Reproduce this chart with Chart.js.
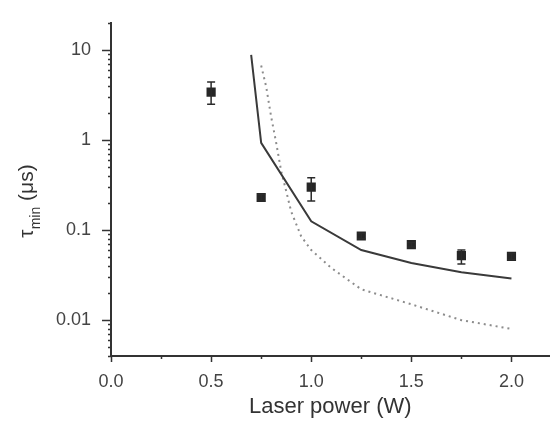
<!DOCTYPE html>
<html lang="en">
<head>
<meta charset="UTF-8" />
<title>Tau min vs laser power</title>
<style>
  html, body { margin: 0; padding: 0; background: #fff; overflow: hidden; }
  .wrap { width: 556px; height: 421px; position: relative; }
</style>
</head>
<body>
<div class="wrap"><canvas id="tauChart"></canvas></div>
<script src="https://cdn.jsdelivr.net/npm/chart.js"></script>
<script>
  // measured points (squares) with error bars
  const power = [0.5, 0.75, 1.0, 1.25, 1.5, 1.75, 2.0];
  const tauMeas = [3.4, 0.23, 0.30, 0.086, 0.069, 0.052, 0.051];
  const tauLow = [2.5, 0.21, 0.21, 0.080, 0.065, 0.042, 0.047];
  const tauHigh = [4.4, 0.25, 0.38, 0.092, 0.073, 0.060, 0.055];

  // model curves
  const solidX = [0.70, 0.75, 1.0, 1.25, 1.5, 1.75, 2.0];
  const solidY = [8.8, 0.93, 0.125, 0.060, 0.043, 0.034, 0.029];
  const dotX = [0.75, 0.775, 0.8, 0.825, 0.85, 0.875, 0.9, 0.95, 1.0, 1.1, 1.25, 1.5, 1.75, 2.0];
  const dotY = [6.7, 3.9, 1.8, 0.93, 0.45, 0.27, 0.16, 0.085, 0.06, 0.038, 0.022, 0.015, 0.010, 0.008];

  // axes
  const xTicks = [0, 0.25, 0.5, 0.75, 1.0, 1.25, 1.5, 1.75, 2.0];
  const xMajor = [0, 0.5, 1.0, 1.5, 2.0];
  const yTicks = [0.004, 0.005, 0.006, 0.007, 0.008, 0.009,
                  0.01, 0.02, 0.03, 0.04, 0.05, 0.06, 0.07, 0.08, 0.09,
                  0.1, 0.2, 0.3, 0.4, 0.5, 0.6, 0.7, 0.8, 0.9,
                  1, 2, 3, 4, 5, 6, 7, 8, 9, 10, 20];
  const yMajor = [0.01, 0.1, 1, 10];
  const yLabels = ['0.01', '0.1', '1', '10'];

  const isIn = (list, v) => list.some(m => Math.abs(m - v) < 1e-9);

  const pts = (xs, ys) => xs.map((x, i) => ({ x: x, y: ys[i] }));

  // draws tick marks, error bars and the y title with subscript
  const extras = {
    id: 'extras',
    afterDatasetsDraw(chart) {
      const ctx = chart.ctx;
      const xs = chart.scales.x, ys = chart.scales.y;
      ctx.save();
      ctx.strokeStyle = '#2b2b2b';
      ctx.lineWidth = 1.5;
      power.forEach((p, i) => {
        const px = xs.getPixelForValue(p);
        const y1 = ys.getPixelForValue(tauLow[i]);
        const y2 = ys.getPixelForValue(tauHigh[i]);
        ctx.beginPath();
        ctx.moveTo(px, y1); ctx.lineTo(px, y2);
        ctx.moveTo(px - 4, y1); ctx.lineTo(px + 4, y1);
        ctx.moveTo(px - 4, y2); ctx.lineTo(px + 4, y2);
        ctx.stroke();
      });
      ctx.restore();
    },
    afterDraw(chart) {
      const ctx = chart.ctx;
      const xs = chart.scales.x, ys = chart.scales.y;
      const area = chart.chartArea;
      ctx.save();
      ctx.strokeStyle = '#333';
      ctx.lineWidth = 1.5;
      ctx.beginPath();
      xTicks.forEach(v => {
        const px = Math.round(xs.getPixelForValue(v)) + 0.5;
        const len = isIn(xMajor, v) ? 6 : 3;
        ctx.moveTo(px, area.bottom); ctx.lineTo(px, area.bottom + len);
      });
      yTicks.forEach(v => {
        const py = Math.round(ys.getPixelForValue(v)) + 0.5;
        const len = isIn(yMajor, v) ? 9 : 3;
        ctx.moveTo(area.left, py); ctx.lineTo(area.left - len, py);
      });
      ctx.stroke();

      // y title: tau_min (us)
      ctx.translate(33, 201);
      ctx.rotate(-Math.PI / 2);
      ctx.fillStyle = '#333';
      ctx.textBaseline = 'alphabetic';
      const big = '21px "Liberation Sans", Arial, sans-serif';
      const small = '14px "Liberation Sans", Arial, sans-serif';
      ctx.font = big;
      const wTau = ctx.measureText('\u03c4').width;
      const wUnit = ctx.measureText(' (\u03bcs)').width;
      ctx.font = small;
      const wMin = ctx.measureText('min').width;
      let u = -(wTau + wMin + wUnit) / 2;
      ctx.font = big;
      ctx.fillText('\u03c4', u, 0);
      u += wTau;
      ctx.font = small;
      ctx.fillText('min', u, 7);
      u += wMin;
      ctx.font = big;
      ctx.fillText(' (\u03bcs)', u, 0);
      ctx.restore();
    }
  };

  new Chart(document.getElementById('tauChart'), {
    type: 'scatter',
    data: {
      datasets: [
        {
          label: 'measured',
          data: pts(power, tauMeas),
          pointStyle: 'rect',
          pointRadius: 6.5,
          backgroundColor: '#262626',
          borderColor: '#262626',
          borderWidth: 0,
          order: 0
        },
        {
          label: 'model 1',
          data: pts(solidX, solidY),
          showLine: true,
          pointRadius: 0,
          borderColor: '#3a3a3a',
          borderWidth: 2,
          fill: false,
          order: 1
        },
        {
          label: 'model 2',
          data: pts(dotX, dotY),
          showLine: true,
          pointRadius: 0,
          borderColor: '#8c8c8c',
          borderWidth: 2,
          borderDash: [2, 4],
          fill: false,
          order: 2
        }
      ]
    },
    options: {
      responsive: true,
      maintainAspectRatio: false,
      animation: false,
      layout: { padding: { top: 13, right: 0, bottom: 1, left: 0 } },
      plugins: { legend: { display: false }, tooltip: { enabled: false } },
      scales: {
        x: {
          type: 'linear',
          min: 0,
          max: 2.19,
          grid: { display: false },
          border: { display: true, color: '#333', width: 2 },
          afterBuildTicks: s => { s.ticks = xTicks.map(v => ({ value: v })); },
          afterFit: s => { s.height = 64; },
          ticks: {
            autoSkip: false,
            maxRotation: 0,
            padding: 7,
            color: '#444',
            font: { family: '"Liberation Sans", Arial, sans-serif', size: 18 },
            callback: v => isIn(xMajor, v) ? v.toFixed(1) : ''
          },
          title: {
            display: true,
            text: 'Laser power (W)',
            color: '#333',
            padding: { top: 0, bottom: 0 },
            font: { family: '"Liberation Sans", Arial, sans-serif', size: 22 }
          }
        },
        y: {
          type: 'logarithmic',
          min: 0.004,
          max: 20,
          grid: { display: false },
          border: { display: true, color: '#333', width: 2 },
          afterBuildTicks: s => { s.ticks = yTicks.map(v => ({ value: v })); },
          afterFit: s => { s.width = 111; },
          ticks: {
            autoSkip: false,
            padding: 12,
            color: '#444',
            font: { family: '"Liberation Sans", Arial, sans-serif', size: 18 },
            callback: v => {
              const k = yMajor.findIndex(m => Math.abs(m - v) < 1e-9);
              return k >= 0 ? yLabels[k] : '';
            }
          }
        }
      }
    },
    plugins: [extras]
  });
</script>
</body>
</html>
